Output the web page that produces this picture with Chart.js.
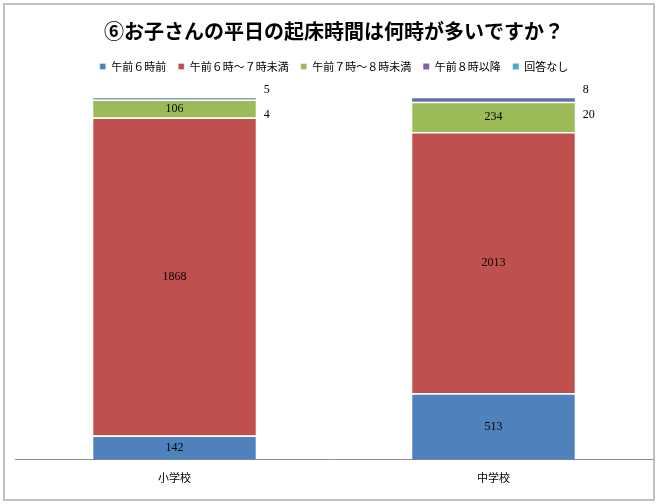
<!DOCTYPE html>
<html>
<head>
<meta charset="utf-8">
<script src="https://cdn.jsdelivr.net/npm/chart.js@4"></script>
<style>
  body { margin: 0; background: #fff; }
  #wrap { position: absolute; left: 3px; top: 3px; width: 648px; height: 494px; border: 2px solid #bfbfbf; }
</style>
</head>
<body>
<div id="wrap"><canvas id="chart" width="648" height="494"></canvas></div>
<script>
const categories = ['小学校', '中学校'];
const seriesNames = ['午前６時前', '午前６時～７時未満', '午前７時～８時未満', '午前８時以降', '回答なし'];
const before6 = [142, 513];
const from6to7 = [1868, 2013];
const from7to8 = [106, 234];
const after8 = [4, 20];
const noAnswer = [5, 8];
const colors = ['#4f81bd', '#c0504d', '#9bbb59', '#8064a2', '#4bacc6'];

const counts = [before6, from6to7, from7to8, after8, noAnswer];
const totals = categories.map((c, i) => counts.reduce((s, a) => s + a[i], 0));

// 100%積み上げ用に割合へ変換
const datasets = counts.map((arr, k) => ({
  label: seriesNames[k],
  data: arr.map((v, i) => v / totals[i] * 100),
  counts: arr,
  backgroundColor: colors[k],
  borderColor: '#fff',
  borderWidth: k < 3 ? { top: 1.5 } : 0,
  borderSkipped: false,
  categoryPercentage: 1,
  barPercentage: 0.51
}));

const labelPlugin = {
  id: 'labels',
  beforeInit(chart) {
    const fit = chart.legend.fit;
    chart.legend.fit = function () {
      fit.bind(chart.legend)();
      this.height += 16;
    };
  },
  afterDatasetsDraw(chart) {
    const ctx = chart.ctx;
    ctx.save();
    ctx.font = '12px "Liberation Serif", serif';
    ctx.fillStyle = '#000';
    ctx.textBaseline = 'middle';
    chart.data.datasets.forEach((ds, k) => {
      chart.getDatasetMeta(k).data.forEach((bar, i) => {
        const v = ds.counts[i];
        if (k < 3) {
          ctx.textAlign = 'center';
          ctx.fillText(v, bar.x, (bar.y + bar.base) / 2);
        } else {
          ctx.textAlign = 'left';
          const top = chart.scales.y.getPixelForValue(100);
          const y = k === 4 ? top - 8 : top + 17;
          ctx.fillText(v, bar.x + bar.width / 2 + 8, y);
        }
      });
    });
    ctx.restore();
  }
};

new Chart(document.getElementById('chart'), {
  type: 'bar',
  data: { labels: categories, datasets: datasets },
  options: {
    responsive: false,
    animation: false,
    layout: { padding: { left: 10, right: 0, top: 0, bottom: 12 } },
    plugins: {
      title: {
        display: true,
        text: '⑥お子さんの平日の起床時間は何時が多いですか？',
        color: '#000',
        font: { family: '"Noto Sans CJK JP"', size: 20, weight: 'bold' },
        padding: { top: 14, bottom: 6 }
      },
      legend: {
        position: 'top',
        labels: {
          color: '#000',
          font: { family: '"Noto Sans CJK JP"', size: 11 },
          boxWidth: 6, boxHeight: 6, padding: 12
        }
      },
      tooltip: { enabled: false }
    },
    scales: {
      x: {
        stacked: true,
        grid: { display: false },
        border: { color: '#8c8c8c' },
        ticks: { color: '#000', font: { family: '"Noto Sans CJK JP"', size: 11 } }
      },
      y: { stacked: true, min: 0, max: 100, display: false }
    }
  },
  plugins: [labelPlugin]
});
</script>
</body>
</html>
